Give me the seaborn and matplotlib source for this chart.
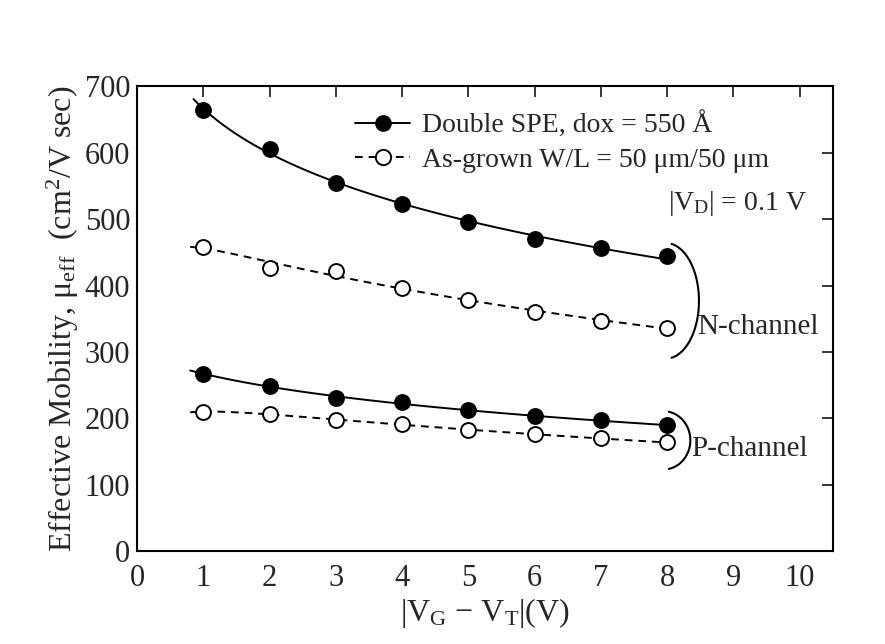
import numpy as np
import pandas as pd
import matplotlib
matplotlib.use('Agg')
import matplotlib.pyplot as plt
import seaborn as sns
from matplotlib.lines import Line2D

# -- data --
vg = [1, 2, 3, 4, 5, 6, 7, 8]
n_double = [664, 605, 554, 523, 496, 470, 456, 444]
n_grown = [458, 427, 422, 397, 378, 360, 347, 336]
p_double = [267, 249, 231, 224, 212, 203, 197, 190]
p_grown = [210, 207, 197, 192, 182, 176, 170, 164]

x_ticks = [0, 1, 2, 3, 4, 5, 6, 7, 8, 9, 10]
y_ticks = [0, 100, 200, 300, 400, 500, 600, 700]

LABEL_DOUBLE = "Double SPE, dox = 550 Å"
LABEL_GROWN = "As-grown W/L = 50 μm/50 μm"

sns.set_theme(style="white")
plt.rcParams['font.family'] = ['Liberation Serif', 'DejaVu Serif']
plt.rcParams['mathtext.fontset'] = 'custom'
plt.rcParams['mathtext.rm'] = 'Liberation Serif'
plt.rcParams['mathtext.it'] = 'Liberation Serif:italic'

fig, ax = plt.subplots(figsize=(8.85, 6.44), dpi=100)
fig.subplots_adjust(left=0.155, right=0.941, bottom=0.144, top=0.866)

DASH = (4, 3)
series = [
    (n_double, 'black', None, 0.85),
    (n_grown, 'white', DASH, 0.8),
    (p_double, 'black', None, 0.8),
    (p_grown, 'white', DASH, 0.8),
]

for vals, face, dash, x0 in series:
    # smooth fitted curve through the measured points (quadratic in log x)
    coef = np.polyfit(np.log(vg), vals, 2)
    xs = np.linspace(x0, 8, 80)
    fit = pd.DataFrame({'x': xs, 'y': np.polyval(coef, np.log(xs))})
    sns.lineplot(data=fit, x='x', y='y', ax=ax, color='black',
                 linewidth=1.4, zorder=2)
    if dash:
        ax.lines[-1].set_dashes(dash)
    pts = pd.DataFrame({'x': vg, 'y': vals})
    sns.scatterplot(data=pts, x='x', y='y', ax=ax, s=115, color=face,
                    edgecolor='black', linewidth=1.4, zorder=3)

ax.set_xlim(0, 10.5)
ax.set_ylim(0, 700)
ax.set_xticks(x_ticks)
ax.set_yticks(y_ticks)
ax.tick_params(direction='in', length=8, width=1.3, labelsize=22,
               top=True, right=True)
ax.tick_params(axis='x', pad=9)
ax.tick_params(axis='y', pad=5)
for sp in ax.spines.values():
    sp.set_color('black')
    sp.set_linewidth(1.5)

ax.set_xlabel(r"|V$_\mathrm{G}$ − V$_\mathrm{T}$|(V)", fontsize=23, labelpad=2)
ax.set_ylabel(r"Effective Mobility, μ$_\mathrm{eff}$  (cm$^2$/V sec)",
              fontsize=23, labelpad=3)

handles = [
    Line2D([], [], color='black', linestyle='-', linewidth=1.4, marker='o',
           markersize=11, markerfacecolor='black', markeredgecolor='black'),
    Line2D([], [], color='black', linestyle=(0, DASH), linewidth=1.4, marker='o',
           markersize=11, markerfacecolor='white', markeredgecolor='black',
           markeredgewidth=1.4),
]
ax.legend(handles, [LABEL_DOUBLE, LABEL_GROWN], loc='upper left',
          bbox_to_anchor=(0.313, 0.945), frameon=False, fontsize=20,
          handlelength=2.0, handletextpad=0.4, labelspacing=0.3,
          borderpad=0, borderaxespad=0)
ax.text(0.963, 0.748, r"|V$_\mathrm{D}$| = 0.1 V", transform=ax.transAxes,
        ha='right', va='center', fontsize=20)

# brackets grouping the N- and P-channel curves
t = np.radians(np.linspace(-80, 80, 60))
ax.plot(7.98 + 0.5 * np.cos(t), 377 + 87 * np.sin(t), color='black', linewidth=1.5)
ax.text(8.45, 337, "N-channel", fontsize=21, ha='left', va='center')
t = np.radians(np.linspace(-78, 78, 60))
ax.plot(7.94 + 0.41 * np.cos(t), 167 + 44 * np.sin(t), color='black', linewidth=1.5)
ax.text(8.36, 154, "P-channel", fontsize=21, ha='left', va='center')

fig.savefig('out.png', dpi=100)
